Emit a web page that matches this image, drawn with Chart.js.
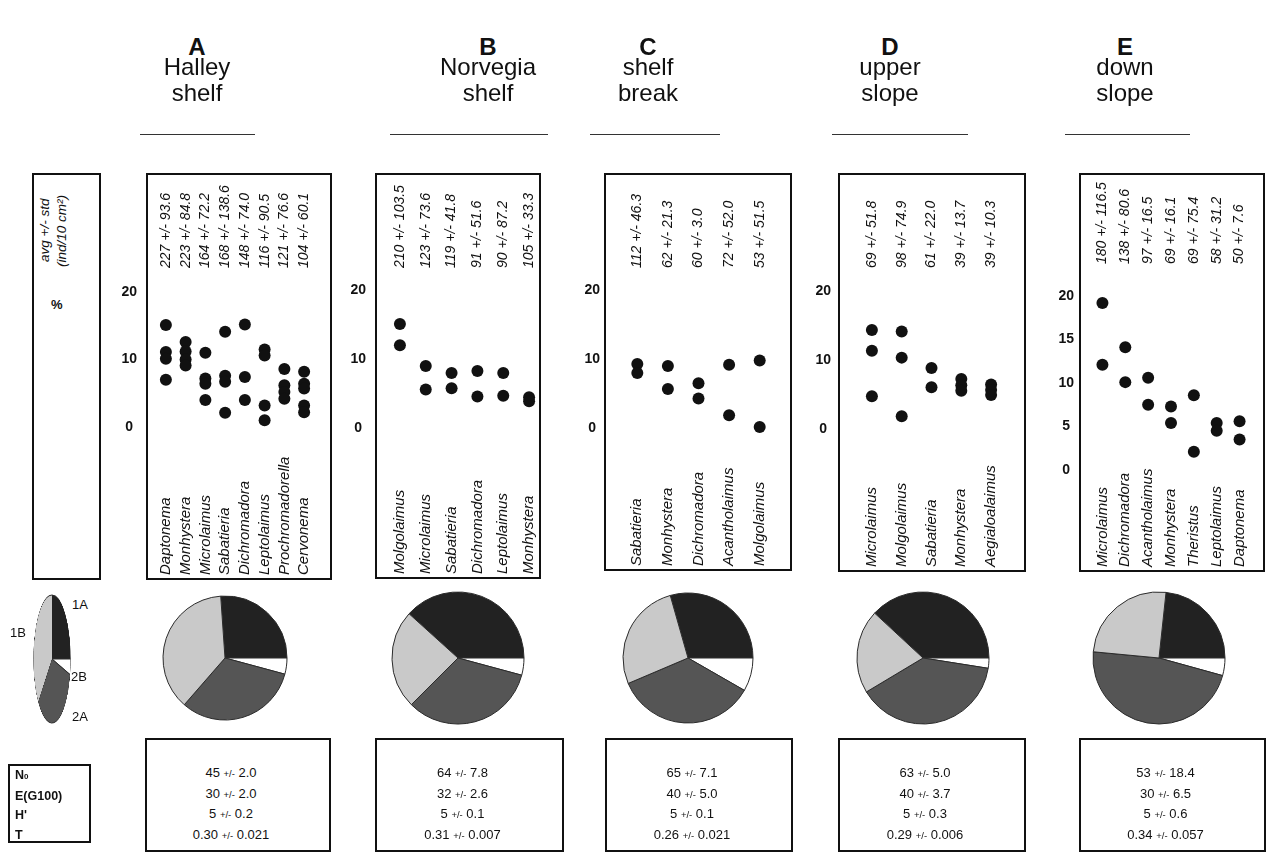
<!DOCTYPE html>
<html><head><meta charset="utf-8">
<script src="https://cdn.jsdelivr.net/npm/chart.js@4.4.1/dist/chart.umd.min.js"></script>
<style>
body{margin:0;background:#fff;font-family:"Liberation Sans",Arial,sans-serif;color:#111;}
#wrap{position:relative;width:1270px;height:855px;overflow:hidden;background:#fff;}
.box{position:absolute;border:2px solid #111;box-sizing:border-box;}
.hd{position:absolute;width:220px;text-align:center;font-size:24px;line-height:24px;white-space:nowrap;}
.hline{position:absolute;height:0;border-top:1px solid #333;}
.stat{position:absolute;text-align:center;font-size:13px;line-height:19.7px;}
.pm{font-size:9.5px}
.rot{position:absolute;transform-origin:0 0;transform:rotate(-90deg);white-space:nowrap;font-style:italic;font-size:13.5px;line-height:14px;}
.lbl{position:absolute;font-size:13px;line-height:14px;}
</style></head><body><div id="wrap"></div>
<script>
// ---------------- data ----------------
const panelLetters = ['A','B','C','D','E'];
const panelTitle1 = ['Halley','Norvegia','shelf','upper','down'];
const panelTitle2 = ['shelf','shelf','break','slope','slope'];

const speciesA = ['Daptonema','Monhystera','Microlaimus','Sabatieria','Dichromadora','Leptolaimus','Prochromadorella','Cervonema'];
const densityA = ['227 +/- 93.6','223 +/- 84.8','164 +/- 72.2','168 +/- 138.6','148 +/- 74.0','116 +/- 90.5','121 +/- 76.6','104 +/- 60.1'];
const percentA = [[15.1,11.1,10.1,7.0],[12.6,11.2,10.0,9.1],[11.0,7.2,6.4,4.0],[14.1,7.6,6.7,2.1],[15.2,7.4,4.0],[11.5,10.6,3.2,1.0],[8.6,6.2,5.2,4.2],[8.2,6.4,5.7,3.2,2.2]];

const speciesB = ['Molgolaimus','Microlaimus','Sabatieria','Dichromadora','Leptolaimus','Monhystera'];
const densityB = ['210 +/- 103.5','123 +/- 73.6','119 +/- 41.8','91 +/- 51.6','90 +/- 87.2','105 +/- 33.3'];
const percentB = [[15.1,12.0],[9.0,5.6],[8.0,5.8],[8.3,4.6],[8.0,4.7],[4.5,3.9]];

const speciesC = ['Sabatieria','Monhystera','Dichromadora','Acantholaimus','Molgolaimus'];
const densityC = ['112 +/- 46.3','62 +/- 21.3','60 +/- 3.0','72 +/- 52.0','53 +/- 51.5'];
const percentC = [[9.3,8.0],[9.0,5.7],[6.5,4.3],[9.2,1.9],[9.8,0.2]];

const speciesD = ['Microlaimus','Molgolaimus','Sabatieria','Monhystera','Aegialoalaimus'];
const densityD = ['69 +/- 51.8','98 +/- 74.9','61 +/- 22.0','39 +/- 13.7','39 +/- 10.3'];
const percentD = [[14.3,11.3,4.7],[14.1,10.3,1.8],[8.8,6.0],[7.2,6.3,5.5],[6.4,5.6,4.9]];

const speciesE = ['Microlaimus','Dichromadora','Acantholaimus','Monhystera','Theristus','Leptolaimus','Daptonema'];
const densityE = ['180 +/- 116.5','138 +/- 80.6','97 +/- 16.5','69 +/- 16.1','69 +/- 75.4','58 +/- 31.2','50 +/- 7.6'];
const percentE = [[19.2,12.1],[14.1,10.1],[10.6,7.5],[7.3,5.4],[8.6,2.1],[5.4,4.5],[5.6,3.5]];

const ticksAD = [0,10,20];
const ticksE = [0,5,10,15,20];

const groupNames = ['1A','2B','2A','1B'];
const pieLegend = [25.0,3.9,34.4,36.7];
const pieA = [26.1,4.2,32.2,37.5];
const pieB = [38.3,4.2,33.3,24.2];
const pieC = [29.4,8.3,35.3,27.0];
const pieD = [38.1,2.5,38.9,20.5];
const pieE = [23.3,4.3,47.2,25.2];

const statNames = ['N0','E(G100)',"H'",'T'];
const statsA = ['45 +/- 2.0','30 +/- 2.0','5 +/- 0.2','0.30 +/- 0.021'];
const statsB = ['64 +/- 7.8','32 +/- 2.6','5 +/- 0.1','0.31 +/- 0.007'];
const statsC = ['65 +/- 7.1','40 +/- 5.0','5 +/- 0.1','0.26 +/- 0.021'];
const statsD = ['63 +/- 5.0','40 +/- 3.7','5 +/- 0.3','0.29 +/- 0.006'];
const statsE = ['53 +/- 18.4','30 +/- 6.5','5 +/- 0.6','0.34 +/- 0.057'];

// ---------------- layout ----------------
const wrap = document.getElementById('wrap');
const FONT = '"Liberation Sans", Arial, sans-serif';
const pieColors = ['#222222','#ffffff','#555555','#c9c9c9'];
const panels = [
 {box:[146,173,332,580], L:156, R:320, tickX:129, y0:427,   k:6.75,  valBase:268, hdrX:197,  hline:[140,255],  pie:[225,658,62],  stat:[145,738,331,852]},
 {box:[375,173,541,579], L:387, R:548, tickX:358, y0:428.3, k:6.915, valBase:268, hdrX:488,  hline:[390,548],  pie:[458,658,66],  stat:[375,738,564,852]},
 {box:[604,173,792,571], L:622, R:781, tickX:592, y0:428.3, k:6.915, valBase:268, hdrX:648,  hline:[590,720],  pie:[688,658,65],  stat:[605,738,793,852]},
 {box:[838,173,1026,572],L:857, R:1012,tickX:823, y0:428.7, k:6.9,   valBase:268, hdrX:890,  hline:[832,968],  pie:[923,658,66],  stat:[838,738,1026,852]},
 {box:[1079,173,1265,572],L:1091,R:1257,tickX:1066,y0:470,  k:8.7,   valBase:264, hdrX:1125, hline:[1065,1190],pie:[1159,658,66], stat:[1079,738,1266,852]}
];
const panelData = [
 [speciesA,densityA,percentA,ticksAD,pieA,statsA],
 [speciesB,densityB,percentB,ticksAD,pieB,statsB],
 [speciesC,densityC,percentC,ticksAD,pieC,statsC],
 [speciesD,densityD,percentD,ticksAD,pieD,statsD],
 [speciesE,densityE,percentE,ticksE,pieE,statsE]
];

function el(tag, cls, css, html){
  const d=document.createElement(tag); if(cls) d.className=cls;
  if(css) d.style.cssText=css; if(html!==undefined) d.innerHTML=html;
  wrap.appendChild(d); return d;
}
function pmText(s){ const p=s.split('+/-'); return p[0]+'<span class="pm">+/-</span>'+p[1]; }

function colTextPlugin(species, density, spBase, valBase){
  return {
    id:'colText',
    afterDraw(chart){
      const ctx=chart.ctx, xs=chart.scales.x;
      ctx.save(); ctx.fillStyle='#111'; ctx.textBaseline='middle'; ctx.textAlign='left';
      species.forEach((s,i)=>{
        const x=xs.getPixelForValue(i);
        ctx.save(); ctx.translate(x, spBase); ctx.rotate(-Math.PI/2);
        ctx.font='italic 15px '+FONT; ctx.fillText(s,0,0); ctx.restore();
        ctx.save(); ctx.translate(x, valBase); ctx.rotate(-Math.PI/2);
        ctx.font='italic 14px '+FONT; ctx.fillText(density[i],0,0); ctx.restore();
      });
      ctx.restore();
    }
  };
}

const W=50, PADV=45;
function makePanel(p, d, idx){
  const [species,density,percent,ticks,pie,stats]=d;
  const [bx1,by1,bx2,by2]=p.box;
  el('div','box',`left:${bx1}px;top:${by1}px;width:${bx2-bx1}px;height:${by2-by1}px`);
  const cLeft=p.L-W, cTop=by1-PADV, cW=p.R-p.L+W, cH=by2-by1+2*PADV;
  const cv=el('canvas',null,`position:absolute;left:${cLeft}px;top:${cTop}px;width:${cW}px;height:${cH}px`);
  cv.width=cW; cv.height=cH;
  const pts=[];
  percent.forEach((vals,i)=>vals.forEach(v=>pts.push({x:species[i],y:v})));
  new Chart(cv,{
    type:'line',
    data:{labels:species,datasets:[{data:pts,showLine:false,pointRadius:6,pointHoverRadius:6,
      pointBackgroundColor:'#111',pointBorderColor:'#111',pointBorderWidth:0,clip:false}]},
    options:{responsive:false,animation:false,events:[],
      layout:{padding:{top:PADV,bottom:PADV,left:0,right:0}},
      plugins:{legend:{display:false},tooltip:{enabled:false}},
      scales:{
        x:{type:'category',labels:species,display:false,offset:true},
        y:{type:'linear',min:(p.y0-by2)/p.k,max:(p.y0-by1)/p.k,
           afterBuildTicks:s=>{s.ticks=ticks.map(v=>({value:v}));},
           afterFit:s=>{s.width=W;},
           grid:{display:false,drawTicks:false},border:{display:false},
           ticks:{autoSkip:false,crossAlign:'center',padding:p.L-p.tickX-8,color:'#111',
                  font:{family:FONT,size:14,weight:'bold'}}}
      }},
    plugins:[colTextPlugin(species,density,by2-5-cTop,p.valBase-cTop)]
  });
  // header
  el('div','hd',`left:${p.hdrX-110}px;top:35px;font-weight:bold`,panelLetters[idx]);
  el('div','hd',`left:${p.hdrX-110}px;top:55px`,panelTitle1[idx]);
  el('div','hd',`left:${p.hdrX-110}px;top:81px`,panelTitle2[idx]);
  el('div','hline',`left:${p.hline[0]}px;top:134px;width:${p.hline[1]-p.hline[0]}px`);
  // pie
  makePie(p.pie[0],p.pie[1],p.pie[2],pie,1);
  // stats
  const [sx1,sy1,sx2,sy2]=p.stat;
  el('div','box',`left:${sx1}px;top:${sy1}px;width:${sx2-sx1}px;height:${sy2-sy1}px`);
  el('div','stat',`left:${sx1}px;top:${sy1+25}px;width:${sx2-sx1-14}px`,stats.map(pmText).join('<br>'));
}

function makePie(cx,cy,r,data,sx){
  const s=2*r+6;
  const holder=el('div',null,`position:absolute;left:${cx-s/2}px;top:${cy-s/2}px;width:${s}px;height:${s}px;transform:scaleX(${sx});transform-origin:50% 50%`);
  const cv=document.createElement('canvas'); cv.width=s; cv.height=s;
  cv.style.cssText=`width:${s}px;height:${s}px;display:block`;
  holder.appendChild(cv);
  new Chart(cv,{type:'pie',
    data:{labels:groupNames,datasets:[{data:data,backgroundColor:pieColors,borderColor:'#2b2b2b',borderWidth:1,hoverOffset:0,radius:r}]},
    options:{responsive:false,animation:false,events:[],radius:r,rotation:90-data[0]*3.6,
      plugins:{legend:{display:false},tooltip:{enabled:false}}}});
}

// left label column
el('div','box','left:32px;top:173px;width:69px;height:407px');
el('div','rot',`left:${45-7}px;top:262px`,'avg +/- std');
el('div','rot',`left:${62-7}px;top:267px`,'(ind/10 cm²)');
el('div','lbl','left:51px;top:298px;font-weight:bold','%');

panels.forEach((p,i)=>makePanel(p,panelData[i],i));

// legend ellipse
makePie(51.5,659,64,pieLegend,18.5/64);
el('div','lbl','left:72px;top:598px','1A');
el('div','lbl','left:10px;top:626px','1B');
el('div','lbl','left:71px;top:670px','2B');
el('div','lbl','left:72px;top:710px','2A');

// stats label box
el('div','box','left:8px;top:764px;width:83px;height:79px');
el('div','lbl','left:15px;top:766px;font-weight:bold;font-size:12.5px;line-height:19.7px',
  statNames.map(s=>s==='N0'?'N<span style="font-size:8px">0</span>':s).join('<br>'));
</script></body></html>
